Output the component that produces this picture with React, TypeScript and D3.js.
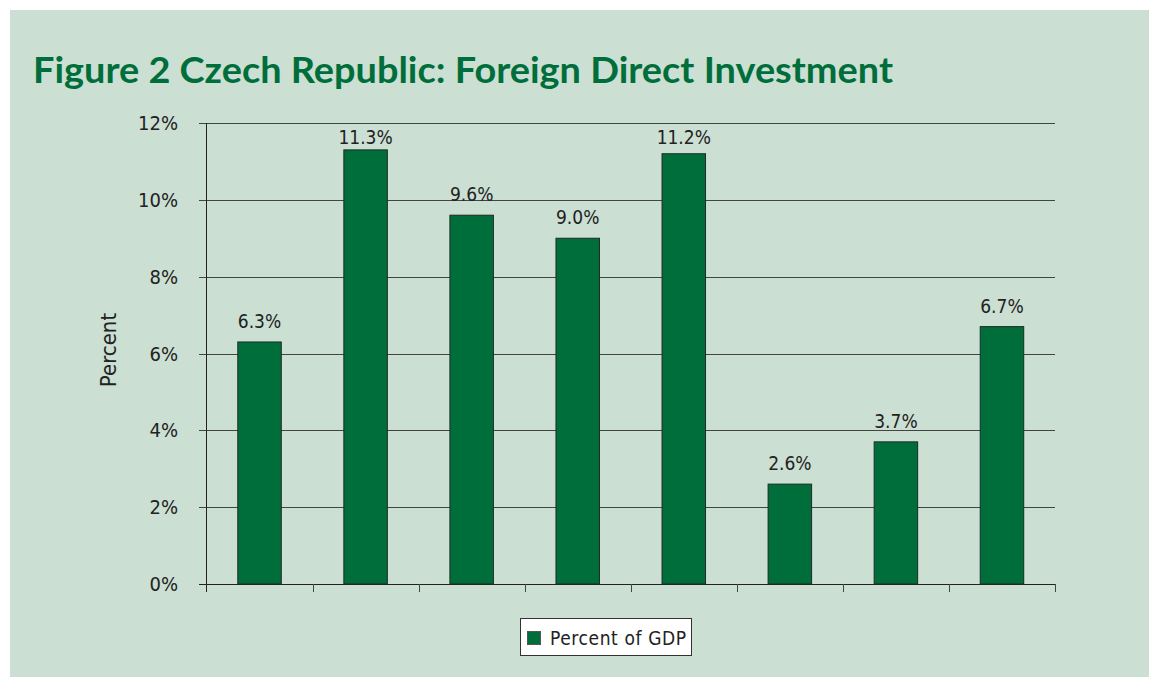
import React from "react";
import * as d3 from "d3";

const categories = ["c1", "c2", "c3", "c4", "c5", "c6", "c7", "c8"];
const values = [6.3, 11.3, 9.6, 9.0, 11.2, 2.6, 3.7, 6.7];
const yTicks = [0, 2, 4, 6, 8, 10, 12];
const title = "Figure 2 Czech Republic: Foreign Direct Investment";
const yLabel = "Percent";
const legendLabel = "Percent of GDP";

const W = 1149;
const H = 677;
const BG = "#cbdfd3";
const GREEN = "#006e3b";
const FONT = "'DejaVu Sans Condensed', 'DejaVu Sans', sans-serif";

export default function App() {
  const x = d3.scaleBand<string>().domain(categories).range([206.5, 1055]).paddingInner(0.59).paddingOuter(0.295);
  const band = d3.scaleBand<string>().domain(categories).range([206.5, 1055]);
  const y = d3.scaleLinear().domain([0, 12]).range([584, 123]);

  return (
    <svg width={W} height={H} style={{ position: "absolute", left: 0, top: 0 }}>
      <rect x={0} y={0} width={W} height={H} fill="#ffffff" />
      <rect x={10} y={10} width={W - 10} height={H - 10} fill={BG} />
      <text x={33} y={83} fontFamily="Lato, 'Open Sans', sans-serif" fontWeight={700} fontSize={36} fill={GREEN} textLength={860} lengthAdjust="spacingAndGlyphs">
        {title}
      </text>
      {yTicks.map((t) => (
        <g key={t}>
          <line x1={199} x2={1055} y1={Math.round(y(t)) + 0.5} y2={Math.round(y(t)) + 0.5} stroke={t === 0 ? "#222" : "#444"} strokeWidth={1} />
          <text x={178} y={y(t) + 7} textAnchor="end" fontFamily={FONT} fontSize={20} fill="#222">
            {t}%
          </text>
        </g>
      ))}
      <line x1={206.5} x2={206.5} y1={y(12)} y2={592} stroke="#222" strokeWidth={1} />
      {categories.map((c) => (
        <line key={c} x1={Math.round((band(c) as number) + band.bandwidth()) + 0.5} x2={Math.round((band(c) as number) + band.bandwidth()) + 0.5} y1={584} y2={592} stroke="#444" strokeWidth={1} />
      ))}
      {categories.map((c, i) => (
        <g key={c}>
          <rect x={x(c)} y={y(values[i])} width={x.bandwidth()} height={y(0) - y(values[i])} fill={GREEN} stroke="#1e2a22" strokeWidth={1} />
          <text x={(x(c) as number) + x.bandwidth() / 2} y={Math.max(y(values[i]) - 14, 144)} textAnchor="middle" fontFamily={FONT} fontSize={19} fill="#222">
            {values[i].toFixed(1)}%
          </text>
        </g>
      ))}
      <text transform={`translate(116,350) rotate(-90)`} textAnchor="middle" fontFamily={FONT} fontSize={22} fill="#222">
        {yLabel}
      </text>
      <rect x={520.5} y={618.5} width={171} height={37} fill="#ffffff" stroke="#333" strokeWidth={1} />
      <rect x={527.5} y={631.5} width={13} height={13} fill={GREEN} stroke="#555" strokeWidth={1} />
      <text x={550} y={645} fontFamily={FONT} fontSize={19} fill="#222" letterSpacing={0.6}>
        {legendLabel}
      </text>
    </svg>
  );
}
